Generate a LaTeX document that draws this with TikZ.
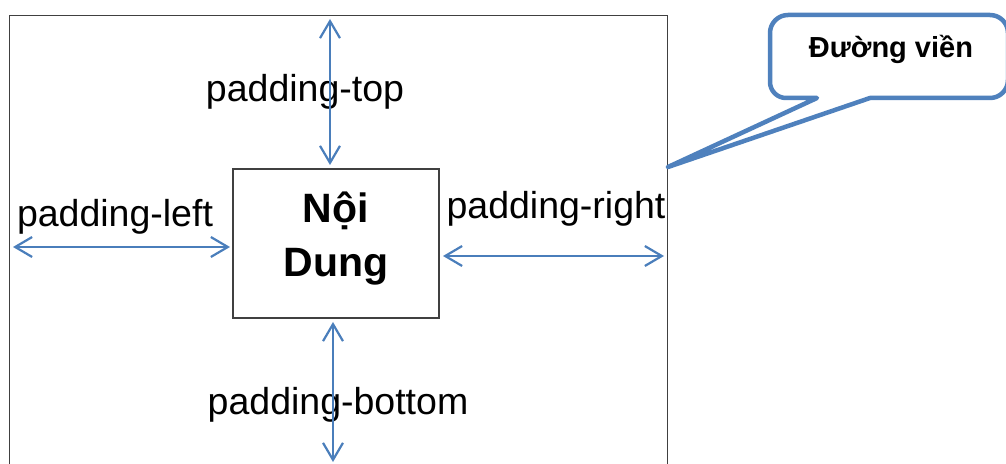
\documentclass[tikz,border=0pt]{standalone}
\usepackage{fontspec}
\setmainfont{Liberation Sans}
\usetikzlibrary{arrows.meta}
\definecolor{arrowblue}{HTML}{4A7EBB}
\definecolor{calloutblue}{HTML}{4F81BD}
\definecolor{boxgray}{HTML}{404040}
\tikzset{
  boxline/.style={draw=boxgray, line width=1.3bp},
  padarrow/.style={draw=arrowblue, line width=2.2bp, {Straight Barb[length=17bp,width=20bp]}-{Straight Barb[length=17bp,width=20bp]}},
  padlabel/.style={inner sep=0pt, font=\fontsize{37.5bp}{45bp}\selectfont},
  calloutline/.style={draw=calloutblue, line width=4.5bp, fill=white, line join=round},
}
\begin{document}
\begin{tikzpicture}[x=1bp,y=-1bp]
\useasboundingbox (0,0) rectangle (1006,464);
\clip (0,0) rectangle (1006,464);
% outer box (border)
\node[boxline, minimum width=658bp, minimum height=460bp, inner sep=0pt, anchor=north west] (outer) at (9,15) {};
% content box
\node[boxline, minimum width=206bp, minimum height=149bp, inner sep=0pt,
      label={[inner sep=0pt, yshift=5bp, align=center, font=\bfseries\fontsize{41bp}{54bp}\selectfont]center:Nội\\Dung}] (content) at (336,243.5) {};
% arrow end points
\coordinate (topA) at (330,19);
\coordinate (topB) at (330,165);
\coordinate (botA) at (333,322);
\coordinate (botB) at (333,462);
\coordinate (leftA) at (13,247);
\coordinate (leftB) at (230,247);
\coordinate (rightA) at (443,256);
\coordinate (rightB) at (664,256);
% labels
\node[padlabel] (ltop) at (305,92) {padding-top};
\node[padlabel] (lleft) at (115,217) {padding-left};
\node[padlabel] (lright) at (556,209) {padding-right};
\node[padlabel] (lbottom) at (338,405) {padding-bottom};
% arrows
\draw[padarrow] (topA) -- (topB);
\draw[padarrow] (botA) -- (botB);
\draw[padarrow] (leftA) -- (leftB);
\draw[padarrow] (rightA) -- (rightB);
% callout
\coordinate (tip) at (668,167);
\draw[calloutline] (817,98) -- (tip) -- (870,98) -- (990,98)
  arc[start angle=90, end angle=0, radius=18] -- (1008,33)
  arc[start angle=0, end angle=-90, radius=18] -- (788,15)
  arc[start angle=-90, end angle=-180, radius=18] -- (770,82)
  arc[start angle=180, end angle=90, radius=16] -- cycle;
\node[inner sep=0pt, font=\bfseries\fontsize{29bp}{35bp}\selectfont] (callout) at (891,49) {Đường viền};
\end{tikzpicture}
\end{document}
